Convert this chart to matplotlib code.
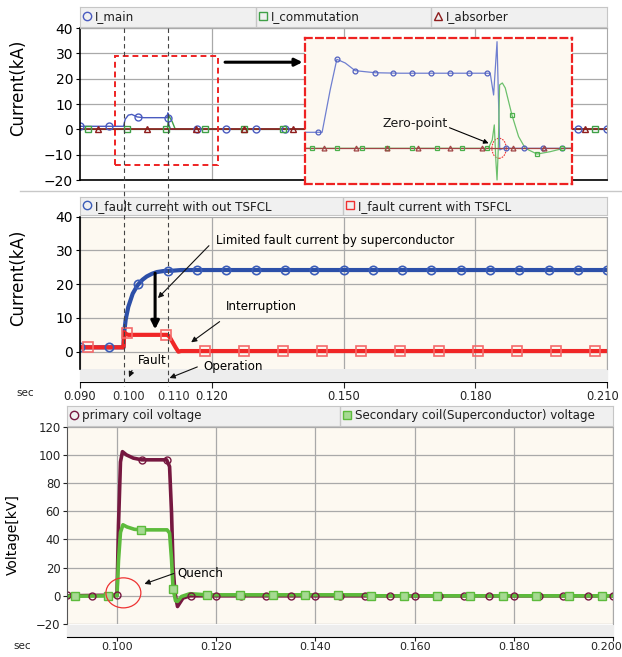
import matplotlib
matplotlib.use("Agg")
import matplotlib.pyplot as plt
from matplotlib.lines import Line2D
from matplotlib.patches import Rectangle, Ellipse
from matplotlib.transforms import blended_transform_factory, ScaledTranslation

W, H = 622, 657

# ---------------- data: top panel (kA) ----------------
main_t = [0.090, 0.0999, 0.1003, 0.1010, 0.1018, 0.1030, 0.1045, 0.1098, 0.1100, 0.1102, 0.1106, 0.210]
main_i = [1.2, 1.2, 4.0, 5.6, 5.9, 4.9, 4.6, 4.6, 6.5, 2.0, 0.0, 0.0]
comm_t = [0.090, 0.1099, 0.1102, 0.1110, 0.1117, 0.210]
comm_i = [0.0, 0.0, 5.5, 3.0, 0.0, 0.0]
absb_t = [0.090, 0.210]
absb_i = [0.0, 0.0]

circ_t = [0.0900, 0.0967, 0.1033, 0.1100, 0.1167, 0.1233, 0.1300, 0.1367, 0.1433, 0.1500,
          0.1567, 0.1633, 0.1700, 0.1767, 0.1833, 0.1900, 0.1967, 0.2033, 0.2100]
main_mk = [1.2, 1.2, 4.7, 4.6, 0, 0, 0, 0, 0, 0, 0, 0, 0, 0, 0, 0, 0, 0, 0]
sq_t = [0.0918, 0.1007, 0.1095, 0.1184, 0.1273, 0.1362, 0.1450, 0.1539, 0.1628, 0.1717,
        0.1806, 0.1894, 0.1983, 0.2072]
comm_mk = [0, 0, 0, 0, 0, 0, 0, 0, 0, 0, 0, 0, 0, 0]
tri_t = [0.0941, 0.1052, 0.1163, 0.1274, 0.1385, 0.1496, 0.1607, 0.1718, 0.1829, 0.1940, 0.2051]
absb_mk = [0, 0, 0, 0, 0, 0, 0, 0, 0, 0, 0]

# zoomed view (inset)
z_main_t = [0.09901, 0.10000, 0.10047, 0.10086, 0.10135, 0.10193, 0.10310, 0.10456, 0.10982,
            0.11002, 0.11022, 0.11038, 0.11058, 0.11462]
z_main_i = [1.0, 1.0, 3.64, 5.56, 5.33, 4.85, 4.72, 4.69, 4.69, 3.33, 6.66, -0.1, 0.0, 0.0]
z_main_mt = [0.09978, 0.10086, 0.10193, 0.10310, 0.10417, 0.10528, 0.10636, 0.10747, 0.10856,
             0.10963, 0.11076, 0.11181, 0.11292, 0.11401]
z_main_mv = [1.0, 5.56, 4.85, 4.72, 4.69, 4.69, 4.69, 4.69, 4.69, 4.69, 0, 0, 0, 0]
z_comm_t = [0.09901, 0.10971, 0.10994, 0.11006, 0.11015, 0.11022, 0.11029, 0.11037, 0.11053,
            0.11070, 0.11109, 0.11148, 0.11187, 0.11256, 0.11333, 0.11411, 0.11462]
z_comm_i = [0.0, 0.0, 0.52, 1.46, -0.73, -1.98, -0.1, 3.96, 4.08, 3.77, 2.08, 0.73, 0.0,
            -0.36, -0.21, 0.0, 0.0]
z_comm_mt = [0.09940, 0.10086, 0.10232, 0.10378, 0.10525, 0.10671, 0.10817, 0.10963, 0.11109,
             0.11256, 0.11401]
z_comm_mv = [0, 0, 0, 0, 0, 0, 0, 0, 2.08, -0.36, 0]
z_absb_t = [0.09901, 0.11462]
z_absb_i = [0.0, 0.0]
z_absb_mt = [0.10012, 0.10199, 0.10378, 0.10563, 0.10747, 0.10934, 0.11115, 0.11294]
z_absb_mv = [0, 0, 0, 0, 0, 0, 0, 0]

# ---------------- data: middle panel (kA) ----------------
nofcl_t = [0.090, 0.0999, 0.1000, 0.1004, 0.1010, 0.1020, 0.1031, 0.1042, 0.1052, 0.1064,
           0.1075, 0.1090, 0.1110, 0.1130, 0.210]
nofcl_i = [1.3, 1.3, 5.0, 9.5, 13.3, 17.2, 19.7, 21.3, 22.3, 23.1, 23.6, 23.9, 24.0, 24.2, 24.2]
nofcl_mk = [1.3, 1.3, 20.0, 23.9, 24.2, 24.2, 24.2, 24.2, 24.2, 24.2, 24.2, 24.2, 24.2, 24.2,
            24.2, 24.2, 24.2, 24.2, 24.2]
fcl_t = [0.090, 0.0999, 0.1001, 0.1004, 0.1010, 0.1098, 0.1103, 0.1110, 0.1118, 0.1124, 0.1130, 0.210]
fcl_i = [1.3, 1.3, 5.8, 5.3, 5.0, 5.0, 4.6, 3.0, 1.2, 0.0, 0.2, 0.2]
fcl_mk = [1.3, 5.4, 5.0, 0.2, 0.2, 0.2, 0.2, 0.2, 0.2, 0.2, 0.2, 0.2, 0.2, 0.2]
event_t = [0.100, 0.110]

# ---------------- data: bottom panel (kV) ----------------
prim_t = [0.090, 0.1000, 0.1003, 0.1007, 0.1011, 0.1019, 0.1033, 0.1050, 0.1100, 0.1106, 0.1110,
          0.1113, 0.1117, 0.1122, 0.1133, 0.1147, 0.200]
prim_v = [0.0, 0.5, 50, 95, 102.3, 100, 97.7, 96.5, 96.5, 91.7, 58.6, 20.8, 1.9, -7.6, -1.6, 0.0, 0.0]
prim_mt = [0.090, 0.095, 0.100, 0.105, 0.110, 0.115, 0.120, 0.125, 0.130, 0.135, 0.140, 0.145,
           0.150, 0.155, 0.160, 0.165, 0.170, 0.175, 0.180, 0.185, 0.190, 0.195, 0.200]
prim_mv = [0.5, 0.0, 0.5, 96.5, 96.5, 0.0, -0.3, -0.3, -0.3, -0.3, -0.3, -0.3, -0.3, -0.3, -0.3,
           -0.3, -0.3, -0.3, -0.3, -0.3, -0.3, -0.3, -0.3]
sec_t = [0.090, 0.1000, 0.1003, 0.1007, 0.1012, 0.1020, 0.1035, 0.1050, 0.1101, 0.1106, 0.1110,
         0.1113, 0.1118, 0.1122, 0.1130, 0.1147, 0.1180, 0.1500, 0.1510, 0.200]
sec_v = [-0.3, 0.0, 25, 45, 50.4, 48.9, 47.2, 46.8, 46.8, 44.5, 25.5, 5.0, -3.5, -4.0, -0.5, 1.5,
         0.7, 0.7, 0.0, 0.0]
sec_mt = [0.0915, 0.0981, 0.1048, 0.1113, 0.1181, 0.1247, 0.1314, 0.1380, 0.1446, 0.1513, 0.1579,
          0.1646, 0.1712, 0.1778, 0.1845, 0.1911, 0.1977]
sec_mv = [-0.3, 0.0, 46.8, 5.0, 0.7, 0.7, 0.7, 0.7, 0.7, 0.0, 0.0, 0.0, 0.0, 0.0, 0.0, 0.0, 0.0]

CREAM = "#FDF9F1"
GRID = "#A9A9A9"
BLUE_T, GREEN_T, DRED = "#4A5BC0", "#3FA047", "#8E1C1C"
BLUE, RED = "#2C4FA8", "#F02626"
MAROON, GREEN = "#761840", "#5DBB3C"


def box(x0, y0, x1, y1):
    return [x0 / W, 1 - y1 / H, (x1 - x0) / W, (y1 - y0) / H]


def header(x0, y0, x1, y1, entries):
    # grey legend strip with equally wide cells, like the simulator's header
    hx = fig.add_axes(box(x0, y0, x1, y1))
    hx.set_facecolor("#F0F0F0")
    hx.set_xlim(0, 1)
    hx.set_ylim(0, 1)
    hx.set_xticks([])
    hx.set_yticks([])
    for s in hx.spines.values():
        s.set_color("#C6C6C6")
    n = len(entries)
    wpx = x1 - x0
    for k, (style, label) in enumerate(entries):
        f = k / n
        hx.plot([f + 7 / wpx], [0.55], ls="none", ms=6, mew=1, **style)
        hx.text(f + 15 / wpx, 0.5, label, fontsize=8.6, va="center", ha="left", color="#1E1E1E")
        if k > 0:
            hx.axvline(f, color="#C6C6C6", lw=1)
    return hx


fig = plt.figure(figsize=(W / 100, H / 100), dpi=100)
fig.patch.set_facecolor("white")

# background strips
fig.add_artist(Rectangle((80 / W, 1 - 380 / H), 527 / W, 11 / H, transform=fig.transFigure,
                         color="#EDEDED", zorder=0))
fig.add_artist(Rectangle((67 / W, 1 - 636 / H), 546 / W, 11 / H, transform=fig.transFigure,
                         color="#EDEDED", zorder=0))
fig.add_artist(Line2D([20 / W, 1], [1 - 191 / H, 1 - 191 / H], transform=fig.transFigure,
                      color="#C8C8C8", lw=1))

# ================= top panel =================
ax1 = fig.add_axes(box(80, 28, 607, 180))
ax1.set_facecolor("white")
ax1.plot(main_t, main_i, color=BLUE_T, lw=1)
ax1.plot(comm_t, comm_i, color=GREEN_T, lw=1)
ax1.plot(absb_t, absb_i, color=DRED, lw=1.2)
ax1.plot(circ_t, main_mk, ls="none", marker="o", ms=5, mfc="none", mec=BLUE_T, mew=1)
ax1.plot(sq_t, comm_mk, ls="none", marker="s", ms=5, mfc="none", mec=GREEN_T, mew=1)
ax1.plot(tri_t, absb_mk, ls="none", marker="^", ms=5, mfc="none", mec=DRED, mew=1)
ax1.set_xlim(0.090, 0.210)
ax1.set_ylim(-20, 40)
ax1.set_yticks([-20, -10, 0, 10, 20, 30, 40])
ax1.set_xticks([0.12, 0.15, 0.18])
ax1.grid(True, color=GRID, lw=0.9)
ax1.tick_params(axis="x", length=0, labelbottom=False)
ax1.tick_params(axis="y", length=3, labelsize=10, pad=2)
for s in ["top", "right"]:
    ax1.spines[s].set_color(GRID)
ax1.spines["left"].set_color("black")
ax1.spines["bottom"].set_color("black")
ax1.spines["left"].set_linewidth(1.2)
ax1.spines["bottom"].set_linewidth(1.2)
ax1.add_patch(Rectangle((0.0980, -14.2), 0.0234, 43.0, fill=False, ec="#EE2222", lw=1.4,
                        ls=(0, (3, 2)), zorder=5))
ax1.annotate("", xy=(0.1413, 26.5), xytext=(0.1224, 26.5),
             arrowprops=dict(arrowstyle="-|>", color="black", lw=2.2, mutation_scale=11),
             annotation_clip=False)
header(80, 7, 607, 27,
       [(dict(marker="o", mfc="none", mec=BLUE_T), "I_main"),
        (dict(marker="s", mfc="none", mec=GREEN_T), "I_commutation"),
        (dict(marker="^", mfc="none", mec=DRED), "I_absorber")])

# inset (zoomed view)
axz = fig.add_axes(box(305, 38, 572, 184))
axz.set_facecolor(CREAM)
axz.plot(z_main_t, z_main_i, color="#6F7FD0", lw=0.9)
axz.plot(z_comm_t, z_comm_i, color="#6CC06C", lw=0.9)
axz.plot(z_absb_t, z_absb_i, color="#A04545", lw=0.9)
axz.plot(z_main_mt, z_main_mv, ls="none", marker="o", ms=3.5, mfc="none", mec="#5060C0", mew=0.9)
axz.plot(z_comm_mt, z_comm_mv, ls="none", marker="s", ms=3.5, mfc="none", mec="#4CB04C", mew=0.9)
axz.plot(z_absb_mt, z_absb_mv, ls="none", marker="^", ms=3.5, mfc="none", mec="#A04545", mew=0.9)
axz.set_xlim(0.0990, 0.1146)
axz.set_ylim(-2.23, 6.89)
axz.set_xticks([])
axz.set_yticks([])
for s in axz.spines.values():
    s.set_color("#EE2222")
    s.set_linestyle((0, (3, 2)))
    s.set_linewidth(1.6)
axz.add_patch(Ellipse((0.11034, 0.0), 0.00084, 1.25, fill=False, ec="#EE3333", lw=0.8,
                      ls=(0, (1.5, 1))))
axz.text(0.10542, 1.56, "Zero-point", fontsize=9, ha="center", va="center", color="#1A1A1A")
axz.annotate("", xy=(0.10988, 0.25), xytext=(0.10729, 1.35),
             arrowprops=dict(arrowstyle="-|>", color="black", lw=0.8, mutation_scale=7))

fig.text(18 / W, 1 - 88 / H, "Current(kA)", rotation=90, fontsize=12, ha="center", va="center")

# ================= middle panel =================
ax2 = fig.add_axes(box(80, 216.7, 607, 368.6))
ax2.set_facecolor(CREAM)
ax2.plot(nofcl_t, nofcl_i, color=BLUE, lw=3)
ax2.plot(fcl_t, fcl_i, color=RED, lw=3)
ax2.plot(circ_t, nofcl_mk, ls="none", marker="o", ms=6, mfc="none", mec="#3A5CB8", mew=1.2)
ax2.plot(sq_t, fcl_mk, ls="none", marker="s", ms=6.5, mfc="none", mec="#F46A6A", mew=1.2)
ax2.set_xlim(0.090, 0.210)
ax2.set_ylim(-5, 40)
ax2.set_yticks([0, 10, 20, 30, 40])
ax2.set_xticks([0.09, 0.12, 0.15, 0.18, 0.21])
ax2.set_xticklabels(["0.090", "0.120", "0.150", "0.180", "0.210"])
ax2.grid(True, color=GRID, lw=0.9)
ax2.spines["bottom"].set_position(("outward", 9.4))
ax2.spines["bottom"].set_color("black")
ax2.spines["left"].set_color("black")
ax2.spines["left"].set_linewidth(1.2)
ax2.spines["top"].set_visible(False)
ax2.spines["right"].set_color(GRID)
ax2.tick_params(axis="x", length=4, labelsize=8.3, pad=2, colors="#222222")
ax2.tick_params(axis="y", length=3, labelsize=10, pad=2)
ax2.get_xticklabels()[-1].set_transform(
    ax2.get_xticklabels()[-1].get_transform() + ScaledTranslation(-4 / 100, 0, fig.dpi_scale_trans))
tr2 = blended_transform_factory(ax2.transData, ax2.transAxes)
ax2.text(0.1010, -0.185, "0.100", transform=tr2, fontsize=8.3, ha="center", va="center", color="#333333")
ax2.text(0.1114, -0.185, "0.110", transform=tr2, fontsize=8.3, ha="center", va="center", color="#333333")
header(80, 197, 607, 215.5,
       [(dict(marker="o", mfc="none", mec="#3A5CB8"), "I_fault current with out TSFCL"),
        (dict(marker="s", mfc="none", mec="#F03030"), "I_fault current with TSFCL")])

arrow = dict(arrowstyle="-|>", color="#111111", lw=0.8, mutation_scale=8)
ax2.text(0.1210, 32.9, "Limited fault current by superconductor", fontsize=8.6, ha="left", va="center")
ax2.annotate("", xy=(0.1073, 15.3), xytext=(0.1198, 32.0), arrowprops=arrow)
ax2.annotate("", xy=(0.1071, 5.8), xytext=(0.1071, 24.1),
             arrowprops=dict(arrowstyle="-|>", color="black", lw=2.2, mutation_scale=12))
ax2.text(0.1233, 13.3, "Interruption", fontsize=8.6, ha="left", va="center")
ax2.annotate("", xy=(0.1148, 2.3), xytext=(0.1223, 9.4), arrowprops=arrow)
ax2.text(0.1032, -2.7, "Fault", fontsize=8.6, ha="left", va="center")
ax2.annotate("", xy=(0.1009, -8.3), xytext=(0.1021, -4.8), arrowprops=arrow, annotation_clip=False)
ax2.text(0.1180, -4.5, "Operation", fontsize=8.6, ha="left", va="center")
ax2.annotate("", xy=(0.1098, -8.1), xytext=(0.1173, -4.2), arrowprops=arrow, annotation_clip=False)

fig.text(18 / W, 1 - 278 / H, "Current(kA)", rotation=90, fontsize=12, ha="center", va="center")
fig.text(25 / W, 1 - 393 / H, "sec", fontsize=7.5, ha="center", va="center", color="#222222")

# dashed event lines through both current panels
trv = blended_transform_factory(ax2.transData, fig.transFigure)
for t in event_t:
    fig.add_artist(Line2D([t, t], [1 - 28 / H, 1 - 386 / H], transform=trv, color="#444444",
                          lw=0.8, ls=(0, (4, 3))))

# ================= bottom panel =================
ax3 = fig.add_axes(box(67.4, 426.7, 613, 624))
ax3.set_facecolor(CREAM)
ax3.plot(prim_t, prim_v, color=MAROON, lw=2.6)
ax3.plot(sec_t, sec_v, color=GREEN, lw=2.6)
ax3.plot(prim_mt, prim_mv, ls="none", marker="o", ms=5, mfc="none", mec=MAROON, mew=1)
ax3.plot(sec_mt, sec_mv, ls="none", marker="s", ms=5.5, mfc="#A6DA92", mec=GREEN, mew=1)
ax3.set_xlim(0.090, 0.200)
ax3.set_ylim(-20, 120)
ax3.set_yticks([-20, 0, 20, 40, 60, 80, 100, 120])
ax3.set_xticks([0.10, 0.12, 0.14, 0.16, 0.18, 0.20])
ax3.set_xticklabels(["0.100", "0.120", "0.140", "0.160", "0.180", "0.200"])
ax3.grid(True, color=GRID, lw=0.9)
ax3.spines["bottom"].set_position(("outward", 9.1))
ax3.spines["bottom"].set_color("black")
ax3.spines["left"].set_color("#555555")
ax3.spines["top"].set_visible(False)
ax3.spines["right"].set_color(GRID)
ax3.tick_params(axis="x", length=3, labelsize=8.0, pad=1, colors="#222222")
ax3.tick_params(axis="y", length=3, labelsize=8.4, pad=2, colors="#222222")
ax3.get_xticklabels()[-1].set_transform(
    ax3.get_xticklabels()[-1].get_transform() + ScaledTranslation(-7 / 100, 0, fig.dpi_scale_trans))
header(67.4, 405.5, 613, 425.5,
       [(dict(marker="o", mfc="none", mec=MAROON), "primary coil voltage"),
        (dict(marker="s", mfc="#A6DA92", mec=GREEN), "Secondary coil(Superconductor) voltage")])
ax3.add_patch(Ellipse((0.10129, 2.1), 0.00704, 21.3, fill=False, ec="#EE3333", lw=0.9, zorder=6))
ax3.text(0.11225, 16.3, "Quench", fontsize=8.6, ha="left", va="center")
ax3.annotate("", xy=(0.1050, 7.8), xytext=(0.1120, 16.5), arrowprops=arrow)

fig.text(13 / W, 1 - 535 / H, "Voltage[kV]", rotation=90, fontsize=10, ha="center", va="center")
fig.text(22 / W, 1 - 646 / H, "sec", fontsize=7.5, ha="center", va="center", color="#222222")

fig.savefig("out.png", dpi=100)
